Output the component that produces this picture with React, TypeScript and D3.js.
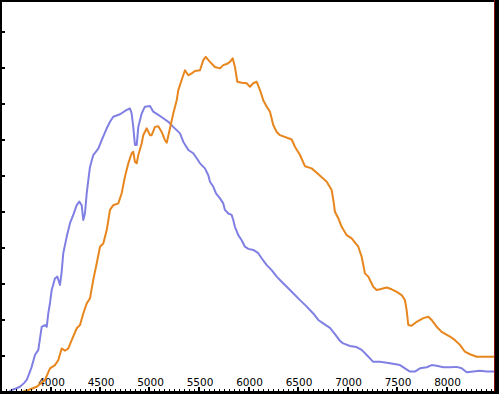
import React from "react";
import * as d3 from "d3";

// wavelength (x) and intensity (y)
const blueX = [3571, 3608, 3652, 3692, 3732, 3760, 3783, 3810, 3843, 3877, 3911, 3944, 3962, 3978, 3995, 4012, 4045, 4069, 4096, 4113, 4129, 4164, 4197, 4230, 4265, 4291, 4315, 4331, 4348, 4366, 4382, 4399, 4432, 4483, 4517, 4568, 4601, 4634, 4702, 4770, 4803, 4820, 4836, 4853, 4871, 4887, 4921, 4954, 5005, 5038, 5089, 5139, 5190, 5240, 5308, 5341, 5392, 5442, 5477, 5510, 5560, 5594, 5611, 5645, 5672, 5712, 5745, 5762, 5796, 5830, 5846, 5863, 5897, 5931, 5964, 5998, 6048, 6099, 6133, 6184, 6234, 6285, 6335, 6386, 6419, 6520, 6581, 6654, 6705, 6762, 6823, 6873, 6924, 6957, 7025, 7092, 7143, 7194, 7260, 7328, 7429, 7530, 7580, 7631, 7681, 7732, 7800, 7850, 7901, 7968, 8035, 8103, 8153, 8204, 8270, 8338, 8406, 8489];
const blueY = [0, 0.7, 1.1, 1.6, 2.6, 3.5, 5.1, 7.1, 10.4, 11.8, 18.2, 18.7, 18.2, 22.0, 24.8, 28.4, 31.6, 32.1, 29.8, 33.5, 38.6, 43.2, 46.9, 49.2, 51.9, 52.9, 51.9, 47.8, 49.6, 55.2, 58.9, 62.5, 65.8, 67.6, 69.9, 73.2, 75.0, 76.4, 77.1, 78.3, 78.7, 77.3, 73.6, 68.6, 68.6, 73.6, 77.3, 79.2, 79.4, 77.8, 76.9, 76.0, 75.0, 73.6, 71.8, 69.5, 67.2, 66.3, 64.9, 63.5, 62.1, 60.2, 58.4, 57.0, 55.2, 53.8, 52.4, 50.6, 49.6, 49.2, 47.8, 45.9, 43.6, 42.2, 40.4, 39.8, 39.5, 38.6, 37.2, 35.3, 33.9, 32.1, 30.7, 29.3, 28.4, 25.6, 24.0, 21.9, 20.1, 19.0, 17.9, 16.2, 14.3, 13.6, 12.9, 12.6, 11.8, 10.4, 8.5, 8.5, 8.1, 7.6, 6.7, 5.8, 5.8, 6.7, 7.0, 7.6, 7.4, 7.0, 7.0, 7.1, 6.7, 5.6, 5.8, 6.0, 5.8, 5.8];

const orangeX = [3692, 3776, 3861, 3944, 3995, 4045, 4079, 4113, 4146, 4180, 4214, 4265, 4298, 4331, 4366, 4399, 4416, 4432, 4467, 4500, 4533, 4568, 4601, 4634, 4685, 4719, 4752, 4786, 4820, 4836, 4853, 4871, 4887, 4921, 4937, 4972, 5005, 5022, 5055, 5089, 5123, 5156, 5174, 5207, 5240, 5275, 5291, 5325, 5358, 5392, 5426, 5459, 5510, 5543, 5568, 5611, 5661, 5712, 5745, 5779, 5813, 5840, 5863, 5887, 5931, 5982, 6015, 6048, 6083, 6116, 6149, 6184, 6217, 6250, 6285, 6318, 6436, 6469, 6520, 6570, 6638, 6689, 6790, 6840, 6857, 6873, 6907, 6941, 6992, 7042, 7109, 7143, 7176, 7210, 7260, 7294, 7328, 7396, 7446, 7497, 7547, 7580, 7597, 7614, 7648, 7699, 7766, 7817, 7850, 7901, 7951, 8035, 8086, 8136, 8186, 8237, 8305, 8473, 8520];
const orangeY = [0, 0.7, 1.6, 3.5, 6.7, 7.6, 9.0, 12.2, 11.6, 12.2, 14.5, 17.8, 18.7, 21.9, 24.7, 26.1, 28.7, 31.2, 35.8, 40.4, 41.3, 45.0, 50.6, 51.9, 52.4, 55.2, 59.8, 63.5, 66.3, 66.7, 63.9, 63.5, 65.8, 69.0, 71.3, 73.2, 71.3, 71.3, 73.6, 73.8, 72.2, 69.9, 69.2, 73.2, 77.3, 81.0, 83.8, 86.6, 89.3, 87.9, 88.4, 89.1, 89.3, 92.1, 93.0, 91.6, 90.2, 89.8, 90.7, 91.0, 91.6, 92.6, 90.2, 86.1, 85.8, 85.7, 84.7, 85.7, 86.1, 83.8, 81.0, 79.2, 77.8, 74.1, 72.2, 71.3, 70.1, 68.1, 65.8, 62.7, 62.1, 60.9, 58.4, 56.1, 53.3, 50.1, 48.3, 45.9, 43.6, 42.7, 40.4, 37.6, 33.0, 32.1, 29.3, 28.4, 28.6, 29.1, 28.6, 27.9, 27.0, 25.6, 22.9, 18.7, 18.5, 19.6, 20.6, 21.0, 20.1, 18.2, 16.8, 15.5, 14.5, 13.2, 11.3, 10.6, 9.9, 9.9, 9.9];

const xLabels = [4000, 4500, 5000, 5500, 6000, 6500, 7000, 7500, 8000];
const yTicks = [10, 20, 30, 40, 50, 60, 70, 80, 90, 100];

const W = 499;
const H = 394;

const App = () => {
    const x = d3.scaleLinear().domain([3500, 8500]).range([1, 496]);
    const y = d3.scaleLinear().domain([0, 108.2]).range([392.5, 2]);

    const line = d3
        .line<[number, number]>()
        .x(d => x(d[0]))
        .y(d => y(d[1]));

    const blue = blueX.map((v, i) => [v, blueY[i]] as [number, number]);
    const orange = orangeX.map((v, i) => [v, orangeY[i]] as [number, number]);

    const minor = d3.range(3550, 8500, 50).filter(v => v % 500 !== 0);

    return (
        <svg width={W} height={H} style={{position: "absolute", left: 0, top: 0, display: "block"}}>
            <defs>
                <clipPath id="plot">
                    <rect x={2} y={2} width={493} height={389}/>
                </clipPath>
            </defs>
            <rect x={0} y={0} width={W} height={H} fill="#fff"/>

            <g fontFamily="DejaVu Sans, Verdana, sans-serif" fontSize={10.5} fill="#000" textAnchor="middle">
                {xLabels.map(v => (
                    <text key={v} x={x(v) + 1} y={386}>{v}</text>
                ))}
            </g>

            <g clipPath="url(#plot)" fill="none" strokeWidth={2} strokeLinejoin="round">
                <path d={line(blue) || ""} stroke="#8080e4"/>
                <path d={line(orange) || ""} stroke="#e8861e"/>
            </g>

            {/* frame */}
            <rect x={0} y={0} width={W} height={2} fill="#000"/>
            <rect x={0} y={0} width={2} height={H} fill="#000"/>
            <rect x={494} y={0} width={1} height={H} fill="#8a1010"/>
            <rect x={495} y={0} width={4} height={H} fill="#000"/>
            <rect x={0} y={391} width={W} height={3} fill="#000"/>

            {/* ticks */}
            {yTicks.map(v => (
                <rect key={v} x={2} y={Math.round(y(v)) - 1} width={3} height={2} fill="#000"/>
            ))}
            {minor.map(v => (
                <rect key={v} x={Math.round(x(v))} y={389} width={1} height={2} fill="#000"/>
            ))}
            {xLabels.map(v => (
                <rect key={v} x={Math.round(x(v)) - 1} y={387} width={2} height={4} fill="#000"/>
            ))}
        </svg>
    );
};

export default App;
